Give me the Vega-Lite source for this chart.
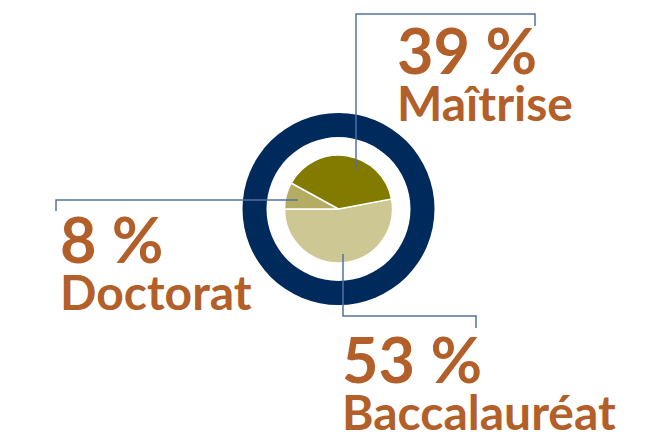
{
  "$schema": "https://vega.github.io/schema/vega-lite/v6.json",
  "width": 639,
  "height": 418,
  "autosize": "none",
  "padding": {"left": 19, "top": 0, "right": 0, "bottom": 18},
  "background": "white",
  "config": {"view": {"stroke": null}},
  "datasets": {
    "shares": [
      {"category": "Baccalauréat", "value": 53, "lx": 342, "ly": 383},
      {"category": "Doctorat", "value": 8, "lx": 60, "ly": 263},
      {"category": "Maîtrise", "value": 39, "lx": 397, "ly": 74}
    ],
    "ring": [{"name": "ring"}],
    "leaders": [
      {"leader": "Maîtrise", "step": 1, "px": 356, "py": 169},
      {"leader": "Maîtrise", "step": 2, "px": 356, "py": 14},
      {"leader": "Maîtrise", "step": 3, "px": 535, "py": 14},
      {"leader": "Maîtrise", "step": 4, "px": 535, "py": 26},
      {"leader": "Doctorat", "step": 1, "px": 298, "py": 200},
      {"leader": "Doctorat", "step": 2, "px": 56, "py": 200},
      {"leader": "Doctorat", "step": 3, "px": 56, "py": 211},
      {"leader": "Baccalauréat", "step": 1, "px": 343, "py": 254},
      {"leader": "Baccalauréat", "step": 2, "px": 343, "py": 316},
      {"leader": "Baccalauréat", "step": 3, "px": 476, "py": 316},
      {"leader": "Baccalauréat", "step": 4, "px": 476, "py": 328}
    ]
  },
  "layer": [
    {
      "data": {"name": "ring"},
      "mark": {"type": "arc", "innerRadius": 72, "outerRadius": 96, "theta": 0, "theta2": 6.2832, "color": "#002A5C"},
      "encoding": {}
    },
    {
      "data": {"name": "shares"},
      "mark": {"type": "arc", "outerRadius": 54, "stroke": "white", "strokeWidth": 1.5},
      "encoding": {
        "theta": {"field": "value", "type": "quantitative", "stack": true, "scale": {"range": [1.3823, 7.6655]}},
        "color": {"field": "category", "type": "nominal", "legend": null,
          "scale": {"domain": ["Baccalauréat", "Doctorat", "Maîtrise"], "range": ["#CDC893", "#B3AC62", "#837A00"]}},
        "order": {"field": "category", "type": "ordinal", "sort": "ascending"}
      }
    },
    {
      "data": {"name": "leaders"},
      "mark": {"type": "line", "color": "#5370A0", "strokeWidth": 1.5},
      "encoding": {
        "x": {"field": "px", "type": "quantitative", "axis": null, "scale": {"domain": [19, 658], "nice": false, "zero": false}},
        "y": {"field": "py", "type": "quantitative", "axis": null, "scale": {"domain": [0, 418], "nice": false, "zero": false, "reverse": true}},
        "detail": {"field": "leader"},
        "order": {"field": "step", "type": "quantitative"}
      }
    },
    {
      "data": {"name": "shares"},
      "transform": [{"calculate": "datum.value + ' %'", "as": "pct"}],
      "mark": {"type": "text", "align": "left", "baseline": "alphabetic", "font": "Lato", "fontWeight": "bold", "fontSize": 63, "color": "#B35F29"},
      "encoding": {
        "x": {"field": "lx", "type": "quantitative", "axis": null, "scale": {"domain": [19, 658], "nice": false, "zero": false}},
        "y": {"field": "ly", "type": "quantitative", "axis": null, "scale": {"domain": [0, 418], "nice": false, "zero": false, "reverse": true}},
        "text": {"field": "pct"}
      }
    },
    {
      "data": {"name": "shares"},
      "mark": {"type": "text", "align": "left", "baseline": "alphabetic", "dy": 47, "font": "Lato", "fontWeight": "bold", "fontSize": 48, "color": "#B35F29"},
      "encoding": {
        "x": {"field": "lx", "type": "quantitative", "axis": null, "scale": {"domain": [19, 658], "nice": false, "zero": false}},
        "y": {"field": "ly", "type": "quantitative", "axis": null, "scale": {"domain": [0, 418], "nice": false, "zero": false, "reverse": true}},
        "text": {"field": "category"}
      }
    }
  ]
}
